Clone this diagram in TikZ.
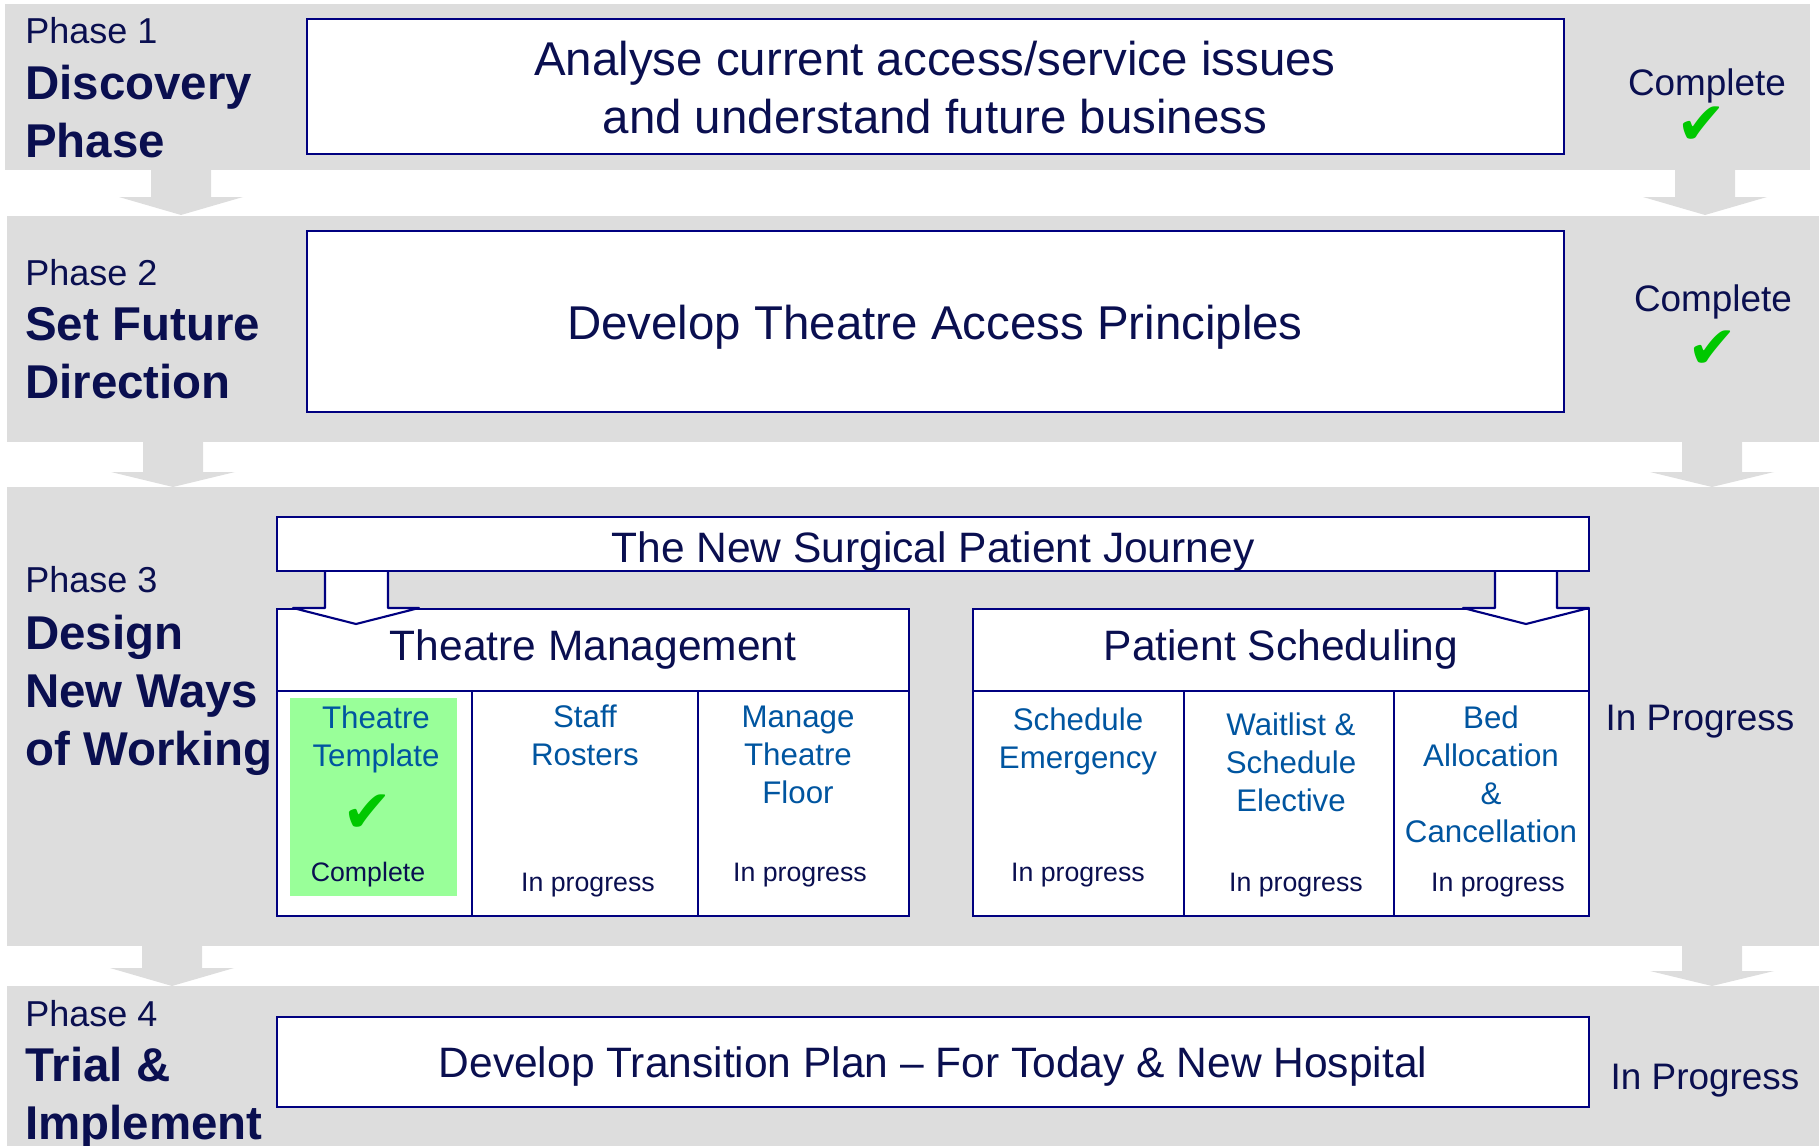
\documentclass[tikz,border=0pt]{standalone}
\usepackage{fontspec}
\setmainfont{Liberation Sans}
\newfontfamily\tickfont{DejaVu Sans}
\definecolor{bandgray}{RGB}{221,221,221}
\definecolor{navyline}{RGB}{0,0,128}
\definecolor{navytext}{RGB}{10,15,80}
\definecolor{itemblue}{RGB}{0,85,160}
\definecolor{donegreen}{RGB}{0,200,0}
\definecolor{donefill}{RGB}{153,255,153}
\newcommand{\bandarrow}[4]
{   \fill[bandgray] ({#1-30},{#2-2}) -- ({#1-30},#3) -- ({#1-62},#3) -- (#1,#4) -- ({#1+62},#3) -- ({#1+30},#3) -- ({#1+30},{#2-2}) -- cycle;
}
\newcommand{\journeyarrow}[4]
{   \filldraw[fill=white, draw=navyline, line width=1.2pt, line join=round] (#1,571) -- (#1,608) -- (#3,608) -- ({(#3+#4)/2},624) -- (#4,608) -- (#2,608) -- (#2,571);
}

\begin{document}
\begin{tikzpicture}[x=0.02cm, y=-0.02cm,
  box/.style={draw=navyline, fill=white, line width=1.2pt},
  big/.style={text=navytext, font=\fontsize{27}{33}\selectfont, align=center},
  mid/.style={text=navytext, font=\fontsize{24.2}{29}\selectfont},
  phasenum/.style={text=navytext, font=\fontsize{20.5}{24}\selectfont, anchor=west, inner sep=0pt},
  phasename/.style={text=navytext, font=\fontsize{27}{33}\bfseries\selectfont, anchor=west, align=left, inner sep=0pt},
  status/.style={text=navytext, font=\fontsize{21}{25}\selectfont},
  tick/.style={text=donegreen, font=\tickfont\fontsize{34}{36}\selectfont},
  item/.style={text=itemblue, font=\fontsize{17.8}{21.6}\selectfont, align=center},
  itemstatus/.style={text=navytext, font=\fontsize{15.2}{18}\selectfont}]

 \useasboundingbox (0,0) rectangle (1819,1146);
 % phase bands and the arrows between them
 \fill[bandgray] (5,4) rectangle (1810,170);
 \fill[bandgray] (7,216) rectangle (1819,442);
 \fill[bandgray] (7,487) rectangle (1819,946);
 \fill[bandgray] (7,986) rectangle (1819,1146);
 \bandarrow{181}{170}{197}{215} \bandarrow{1705}{170}{197}{215}
 \bandarrow{173}{442}{472}{487} \bandarrow{1712}{442}{472}{487}
 \bandarrow{172}{946}{968}{986} \bandarrow{1712}{946}{971}{986}

 % boxes
 \draw[box] (307,19) rectangle (1564,154);
 \draw[box] (307,231) rectangle (1564,412);
 \draw[box] (277,609) rectangle (909,916);
 \fill[donefill] (290,698) rectangle (457,896);
 \draw[navyline, line width=1.2pt] (277,691) -- (909,691) (472,691) -- (472,916) (698,691) -- (698,916);
 \draw[box] (973,609) rectangle (1589,916);
 \draw[navyline, line width=1.2pt] (973,691) -- (1589,691) (1184,691) -- (1184,916) (1394,691) -- (1394,916);
 \journeyarrow{325}{388}{293}{419}
 \journeyarrow{1495}{1557}{1463}{1589}
 \draw[box] (277,517) rectangle (1589,571);
 \draw[box] (277,1017) rectangle (1589,1107);

 % phase names
 \node[phasenum] (p1num) at (25,31) {Phase 1};
 \node[phasename] (p1name) at (25,112) {Discovery\\Phase};
 \node[phasenum] (p2num) at (25,273) {Phase 2};
 \node[phasename] (p2name) at (25,353) {Set Future\\Direction};
 \node[phasenum] (p3num) at (25,580) {Phase 3};
 \node[phasename] (p3name) at (25,695) {Design\\New Ways\\of Working};
 \node[phasenum] (p4num) at (25,1014) {Phase 4};
 \node[phasename] (p4name) at (25,1098) {Trial \&\\Implement};

 % box texts
 \node[big] (discovery) at (935,88) {Analyse current access/service issues\\and understand future business};
 \node[big] (principles) at (935,327) {Develop Theatre Access Principles};
 \node[mid] (journey) at (933,551) {The New Surgical Patient Journey};
 \node[mid] (theatre) at (593,649) {Theatre Management};
 \node[mid] (scheduling) at (1281,649) {Patient Scheduling};
 \node[mid] (transition) at (933,1066) {Develop Transition Plan – For Today \& New Hospital};

 % work streams
 \node[item] (template) at (376,739) {Theatre\\Template};
 \node[tick] (templatetick) at (368,814) {✔};
 \node[itemstatus] (templatestatus) at (368,875) {Complete};
 \node[item] (rosters) at (585,735) {Staff\\Rosters};
 \node[itemstatus] (rostersstatus) at (588,885) {In progress};
 \node[item] (floor) at (798,755) {Manage\\Theatre\\Floor};
 \node[itemstatus] (floorstatus) at (800,875) {In progress};
 \node[item] (emergency) at (1078,741) {Schedule\\Emergency};
 \node[itemstatus] (emergencystatus) at (1078,875) {In progress};
 \node[item] (elective) at (1291,762) {Waitlist \&\\Schedule\\Elective};
 \node[itemstatus] (electivestatus) at (1296,885) {In progress};
 \node[item] (beds) at (1491,774) {Bed\\Allocation\\\&\\Cancellation};
 \node[itemstatus] (bedsstatus) at (1498,885) {In progress};

 % status column
 \node[status] (p1status) at (1707,86) {Complete};
 \node[tick] (p1tick) at (1702,126) {✔};
 \node[status] (p2status) at (1713,302) {Complete};
 \node[tick] (p2tick) at (1713,350) {✔};
 \node[status] (p3status) at (1700,722) {In Progress};
 \node[status] (p4status) at (1705,1081) {In Progress};

\end{tikzpicture}
\end{document}
